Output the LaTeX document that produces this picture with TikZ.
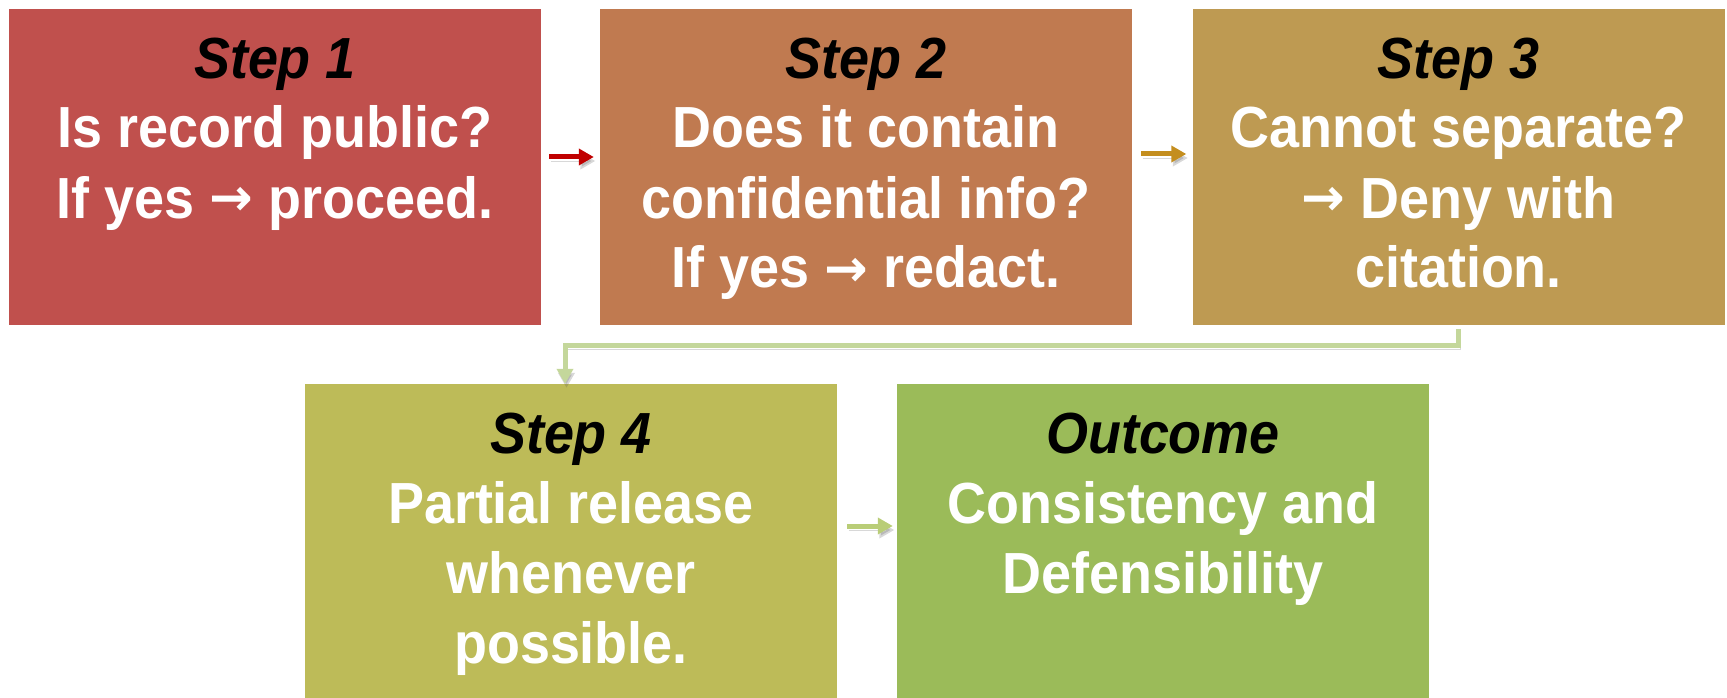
\documentclass[tikz,border=0pt]{standalone}
\usepackage{fontspec}
\setmainfont{Liberation Sans}[FakeStretch=0.93]
\newfontfamily\arrfont{DejaVu Sans}[Scale=0.9]
\usetikzlibrary{arrows.meta,calc}
\definecolor{cA}{HTML}{C0504D}
\definecolor{cB}{HTML}{C07A50}
\definecolor{cC}{HTML}{BE9A52}
\definecolor{cD}{HTML}{BDBB58}
\definecolor{cE}{HTML}{9BBB59}
\definecolor{aA}{HTML}{C00000}
\definecolor{aB}{HTML}{C48E1E}
\definecolor{aD}{HTML}{B9CD77}
\definecolor{aC}{HTML}{C4D79B}
\newcommand{\arr}{{\arrfont\bfseries\raisebox{2pt}{→}}}
\newcommand{\boxtext}[2]{\parbox[c][316pt][t]{532pt}{\centering\rule{0pt}{69pt}{\color{black}\itshape #1}\\ #2}}
\begin{document}
\begin{tikzpicture}[x=1pt,y=1pt,
  stepbox/.style={rectangle, inner sep=0pt, minimum width=532pt, minimum height=316pt,
    text=white, font=\bfseries\fontsize{58}{70}\selectfont},
  shadowed/.style={preaction={draw=black!70, opacity=0.22, transform canvas={shift={(1.5pt,-4pt)}}}},
  flow/.style={line width=5pt, -{Triangle[length=15pt,width=16pt]}, shadowed},
]
\useasboundingbox (0,0) rectangle (1727,-698);
\node[stepbox, fill=cA] (b1) at (275,-167) {\boxtext{Step 1}{Is record public?\\ If yes \arr{} proceed.}};
\node[stepbox, fill=cB] (b2) at (866,-167) {\boxtext{Step 2}{Does it contain\\ confidential info?\\ If yes \arr{} redact.}};
\node[stepbox, fill=cC] (b3) at (1458.5,-167) {\boxtext{Step 3}{Cannot separate?\\ \arr{} Deny with\\ citation.}};
\node[stepbox, fill=cD] (b4) at (571,-542) {\boxtext{Step 4}{Partial release\\ whenever\\ possible.}};
\node[stepbox, fill=cE] (b5) at (1163,-542) {\boxtext{Outcome}{Consistency and\\ Defensibility}};
\draw[flow, aA] ($(b1.east)+(8,10)$) -- ($(b2.west)+(-6,10)$);
\draw[flow, aB] ($(b2.east)+(9,13)$) -- ($(b3.west)+(-6,13)$);
\draw[flow, aD] ($(b4.east)+(10,16)$) -- ($(b5.west)+(-4,16)$);
\draw[flow, aC] ($(b3.south)+(0,-4)$) -- ++(0,-16) -| ($(b4.north)+(-6,0)$);
\end{tikzpicture}
\end{document}
